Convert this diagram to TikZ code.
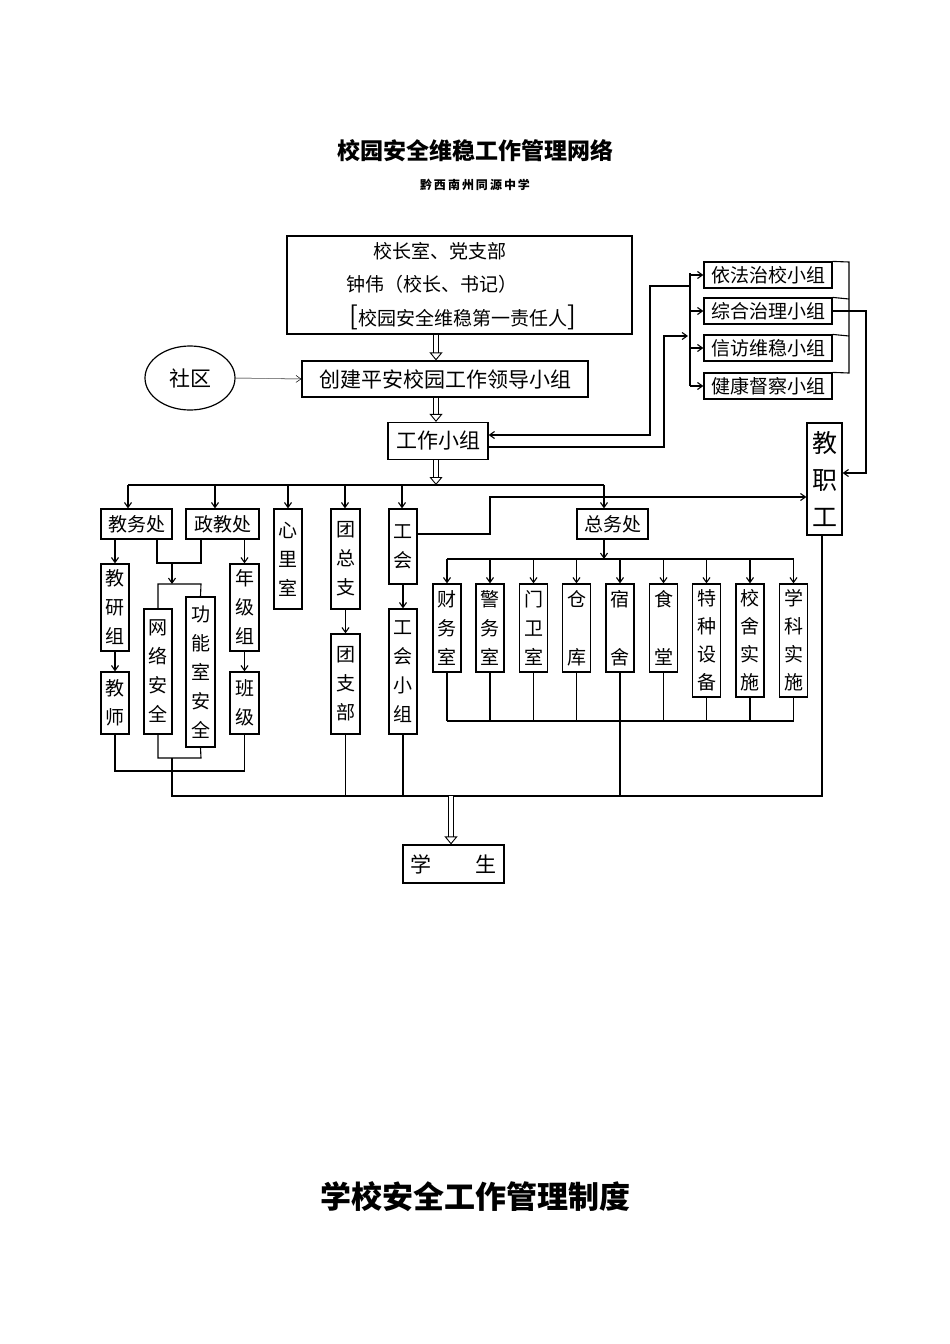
\documentclass[tikz,border=0pt]{standalone}
\usepackage{fontspec}
\setmainfont{Noto Sans CJK SC}
\usetikzlibrary{arrows.meta,shapes.geometric}
\begin{document}
\begin{tikzpicture}[x=1pt,y=-1pt,
  box/.style={draw,line width=1.2pt,inner sep=0pt,font=\fontsize{19}{29}\selectfont,align=center},
  ln/.style={line width=1.1pt},
  ar/.style={ln,-{Straight Barb[length=5pt,width=7pt]}},
  dbl/.style={draw,line width=0.9pt,double,double distance=3.5pt,-{Triangle[open,length=8pt,width=13pt]}}]
\useasboundingbox (0,0) rectangle (950,1344);
\node[font=\bfseries\fontsize{23}{23}\selectfont] (title) at (475,151) {校园安全维稳工作管理网络};
\node[font=\bfseries\fontsize{12}{12}\selectfont] (sub) at (475,185) {黔\,西\,南\,州\,同\,源\,中\,学};
\node[font=\bfseries\fontsize{31}{31}\selectfont] (title2) at (475,1197) {学校安全工作管理制度};
% top
\node[box,minimum width=345pt,minimum height=98pt] (top) at (459.5,285) {};
\node[font=\fontsize{19}{19}\selectfont] (t1) at (440,251) {校长室、党支部};
\node[font=\fontsize{19}{19}\selectfont] (t2) at (432,284) {钟伟（校长、书记）};
\node[font=\fontsize{19}{19}\selectfont] (t3) at (463,317) {{\fontsize{26}{26}\selectfont[}校园安全维稳第一责任人{\fontsize{26}{26}\selectfont]}};
\node[box,minimum width=286pt,minimum height=36pt,font=\fontsize{21}{21}\selectfont] (lead) at (445,379) {创建平安校园工作领导小组};
\node[draw,ellipse,line width=1.2pt,minimum width=90pt,minimum height=64pt,font=\fontsize{21}{21}\selectfont] (sq) at (190,378) {社区};
\node[box,minimum width=100pt,minimum height=37pt,font=\fontsize{21}{21}\selectfont] (work) at (438,441) {工作小组};
\foreach \n/\t/\y in {yf/依法治校小组/275,zh/综合治理小组/311,xf/信访维稳小组/348,jk/健康督察小组/386}
  \node[box,minimum width=128pt,minimum height=26pt] (\n) at (768,\y) {\t};
\node[box,minimum width=35pt,minimum height=112pt,font=\fontsize{25}{37}\selectfont] (jzg) at (824.5,479) {教\\职\\工};
% second row
\node[box,minimum width=71pt,minimum height=30pt] (jwc) at (136.5,524) {教务处};
\node[box,minimum width=73pt,minimum height=30pt] (zjc) at (222.5,524) {政教处};
\node[box,minimum width=28pt,minimum height=100pt] (xls) at (288,559) {心\\里\\室};
\node[box,minimum width=29pt,minimum height=100pt] (tzz) at (345.5,559) {团\\总\\支};
\node[box,minimum width=28pt,minimum height=75pt] (gh) at (403,546.5) {工\\会};
\node[box,minimum width=71pt,minimum height=30pt] (zwc) at (612.5,524) {总务处};
\node[box,minimum width=28pt,minimum height=87pt] (jyz) at (115,607.5) {教\\研\\组};
\node[box,minimum width=28pt,minimum height=62pt] (js) at (115,703) {教\\师};
\node[box,minimum width=28pt,minimum height=125pt] (wl) at (158,671.5) {网\\络\\安\\全};
\node[box,minimum width=29pt,minimum height=150pt] (gn) at (200.5,672) {功\\能\\室\\安\\全};
\node[box,minimum width=29pt,minimum height=87pt] (njz) at (244.5,607.5) {年\\级\\组};
\node[box,minimum width=29pt,minimum height=62pt] (bj) at (244.5,703) {班\\级};
\node[box,minimum width=29pt,minimum height=100pt] (tzb) at (345.5,684) {团\\支\\部};
\node[box,minimum width=28pt,minimum height=125pt] (ghxz) at (403,671.5) {工\\会\\小\\组};
\foreach \n/\t/\x in {a1/财\\务\\室/447,a2/警\\务\\室/490,a3/门\\卫\\室/533.5,a4/仓\\\\库/576.5,a5/宿\\\\舍/620,a6/食\\\\堂/663.5}
  \node[box,minimum width=28pt,minimum height=88pt] (\n) at (\x,628) {\t};
\foreach \n/\t/\x in {a7/特\\种\\设\\备/706.5,a8/校\\舍\\实\\施/750,a9/学\\科\\实\\施/793.5}
  \node[box,minimum width=28pt,minimum height=113pt,font=\fontsize{19}{28}\selectfont] (\n) at (\x,640.5) {\t};
\node[box,minimum width=101pt,minimum height=38pt,font=\fontsize{21}{21}\selectfont] (xs) at (453.5,864) {学\hspace{44pt}生};
% connectors
\draw[dbl] (top.south -| 436,0) -- (lead.north -| 436,0);
\draw[dbl] (lead.south -| 436,0) -- (work.north -| 436,0);
\draw[gray,line width=0.5pt,-{Straight Barb[length=5pt,width=7pt]},black] (sq.east) -- (lead.west);
\draw[gray!70,line width=0.5pt] (sq.east) -- ([xshift=-5pt]lead.west);
% right bracket groups
\coordinate (bt) at (690,273); \coordinate (bb) at (690,386);
\draw[ln] (bt) -- (bb);
\foreach \n in {yf,zh,xf,jk} \draw[ar] (\n.west -| 690,0) -- (\n.west);
\draw[ar] (690,286) -- (650,286) -- (650,435) -- (work.east |- 0,435);
\draw[ar] (work.east |- 0,447) -- (664,447) -- (664,336) -- (688,336);
\draw[ln] (yf.north east) -- (849,262) -- (849,373) -- (jk.north east);
\draw[ln] (zh.north east) -- (849,299);
\draw[ln] (xf.north east) -- (849,336);
\draw[ar] (zh.east) -- (866,311) -- (866,473) -- (jzg.east |- 0,473);
\draw[ar] (gh.east |- 0,534) -- (490,534) -- (490,497) -- (jzg.west |- 0,497);
% main bus
\draw[dbl] (work.south -| 436,0) -- (436,485);
\draw[ln] (128,485) -- (604,485);
\foreach \n/\x in {jwc/128,zjc/215,xls/288,tzz/345,gh/402,zwc/604} \draw[ar] (\x,485) -- (\n.north -| \x,0);
% left column
\draw[ar] (jwc.south -| jyz) -- (jyz.north);
\draw[ar] (jyz) -- (js.north);
\draw[ln] (jwc.south -| 157,0) -- (157,563) -- (201,563) -- (zjc.south -| 201,0);
\draw[ar] (172,563) -- (172,584);
\draw[ln] (wl.north) -- (158,584) -- (201,584) -- (gn.north);
\draw[ar] (zjc.south -| njz) -- (njz.north);
\draw[ar] (njz) -- (bj.north);
\draw[ln] (wl.south) -- (158,758) -- (201,758) -- (gn.south);
\draw[ln] (js.south) -- (115,771) -- (244.5,771) -- (bj.south);
\draw[ar] (tzz.south -| tzb) -- (tzb.north);
\draw[ar] (gh) -- (ghxz.north);
% 总务处 subtree
\draw[ar] (zwc.south -| 604,0) -- (604,559);
\draw[ln] (447,559) -- (793.5,559);
\foreach \n in {a1,a2,a3,a4,a5,a6,a7,a8,a9} \draw[ar] (\n |- 0,559) -- (\n.north);
\draw[ln] (447,721) -- (793.5,721);
\foreach \n in {a1,a2,a3,a4,a5,a6,a7,a8,a9} \draw[ln] (\n.south) -- (\n |- 0,721);
% bottom bus
\draw[ln] (172,758) -- (172,796) -- (822,796) -- (jzg.south -| 822,0);
\draw[ln] (tzb.south) -- (tzb |- 0,796);
\draw[ln] (ghxz.south) -- (ghxz |- 0,796);
\draw[ln] (620,721) -- (620,796);
\draw[dbl] (451,796) -- (xs.north -| 451,0);
\end{tikzpicture}
\end{document}
